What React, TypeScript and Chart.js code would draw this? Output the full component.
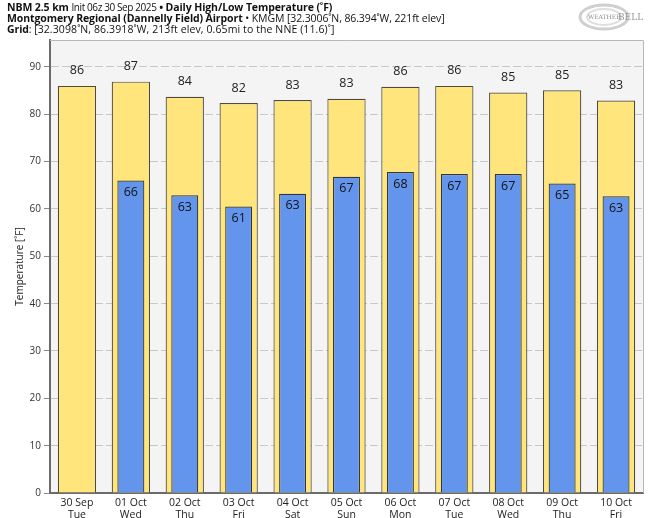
import React, { useEffect, useRef } from "react";
import { Chart, registerables } from "chart.js";

Chart.register(...registerables);

const categories: string[][] = [
  ["30 Sep", "Tue"],
  ["01 Oct", "Wed"],
  ["02 Oct", "Thu"],
  ["03 Oct", "Fri"],
  ["04 Oct", "Sat"],
  ["05 Oct", "Sun"],
  ["06 Oct", "Mon"],
  ["07 Oct", "Tue"],
  ["08 Oct", "Wed"],
  ["09 Oct", "Thu"],
  ["10 Oct", "Fri"],
];
const highTemps: number[] = [86.0, 86.9, 83.7, 82.4, 83.0, 83.3, 85.8, 86.0, 84.6, 85.1, 82.9];
const lowTemps: (number | null)[] = [null, 66.0, 62.9, 60.5, 63.2, 66.8, 67.8, 67.4, 67.4, 65.4, 62.7];
const yTicks: number[] = [0, 10, 20, 30, 40, 50, 60, 70, 80, 90];

const FONT = "'Open Sans', 'Noto Sans', sans-serif";

const plotDecor = {
  id: "plotDecor",
  beforeDraw(chart: any) {
    const { ctx, chartArea } = chart;
    ctx.save();
    ctx.fillStyle = "#f4f4f4";
    ctx.fillRect(chartArea.left, chartArea.top, chartArea.right - chartArea.left, chartArea.bottom - chartArea.top);
    ctx.restore();
  },
  afterDraw(chart: any) {
    const { ctx, chartArea } = chart;
    ctx.save();
    ctx.strokeStyle = "#b8b8b8";
    ctx.lineWidth = 1;
    ctx.beginPath();
    ctx.moveTo(chartArea.left, chartArea.top + 0.5);
    ctx.lineTo(chartArea.right + 0.5, chartArea.top + 0.5);
    ctx.lineTo(chartArea.right + 0.5, chartArea.bottom);
    ctx.stroke();
    // y-axis title
    ctx.translate(20, (chartArea.top + chartArea.bottom) / 2);
    ctx.rotate(-Math.PI / 2);
    ctx.fillStyle = "#222";
    ctx.font = `10px ${FONT}`;
    ctx.textAlign = "center";
    ctx.textBaseline = "middle";
    ctx.fillText("Temperature [˚F]", 0, 0);
    ctx.restore();
  },
  afterDatasetsDraw(chart: any) {
    const { ctx } = chart;
    ctx.save();
    ctx.font = `12.5px ${FONT}`;
    ctx.textAlign = "center";
    ctx.textBaseline = "middle";
    chart.data.datasets.forEach((ds: any, di: number) => {
      const meta = chart.getDatasetMeta(di);
      meta.data.forEach((el: any, i: number) => {
        const v = ds.data[i];
        if (v === null || v === undefined) return;
        const txt = String(Math.round(v));
        if (ds.label === "High") {
          ctx.fillStyle = "#222";
          ctx.fillText(txt, el.x, el.y - 15);
        } else {
          ctx.fillStyle = "#111";
          ctx.fillText(txt, el.x, el.y + 12);
        }
      });
    });
    ctx.restore();
  },
};

function Logo() {
  return (
    <svg width="70" height="34" style={{ position: "absolute", left: 574, top: 0 }}>
      <ellipse cx="30" cy="17" rx="24" ry="12" fill="none" stroke="#cfcfcf" strokeWidth="3" />
      <ellipse cx="30" cy="17" rx="17" ry="8" fill="none" stroke="#dedede" strokeWidth="2" />
      <text x="14" y="19" fontSize="6" fill="#888" fontFamily="DejaVu Serif">WEATHER</text>
      <text x="44" y="20" fontSize="9" fill="#999" fontFamily="DejaVu Serif">BELL</text>
    </svg>
  );
}

export default function App() {
  const ref = useRef<HTMLCanvasElement | null>(null);

  useEffect(() => {
    if (!ref.current) return;
    const chart = new Chart(ref.current, {
      type: "bar",
      data: {
        labels: categories,
        datasets: [
          {
            label: "High",
            data: highTemps,
            backgroundColor: "#ffe57c",
            borderColor: "#4d4a40",
            borderWidth: 1.2,
            barPercentage: 0.71,
            categoryPercentage: 1,
            order: 2,
          },
          {
            label: "Low",
            data: lowTemps,
            backgroundColor: "#6495ed",
            borderColor: "#2f3644",
            borderWidth: 1.2,
            barPercentage: 0.5,
            categoryPercentage: 1,
            order: 1,
          },
        ],
      },
      options: {
        responsive: false,
        animation: false,
        devicePixelRatio: 1,
        layout: { padding: { left: 0, right: 6, top: 40, bottom: 0 } },
        plugins: {
          legend: { display: false },
          tooltip: { enabled: false },
          title: { display: false },
        },
        scales: {
          x: {
            stacked: true,
            grid: { display: false, drawTicks: false },
            border: { display: true, color: "#6b6b6b", width: 2 },
            ticks: {
              color: "#222",
              font: { family: FONT, size: 10.5, lineHeight: 1.05 },
              padding: 5,
              maxRotation: 0,
              autoSkip: false,
            },
            afterFit(scale: any) {
              scale.height = 25;
            },
          },
          y: {
            min: 0,
            max: 95.7,
            stacked: false,
            grid: {
              color: "#c8c8c8",
              lineWidth: 1,
              tickLength: 6,
              tickColor: "#8a8a8a",
              drawTicks: true,
            },
            border: { display: true, color: "#6b6b6b", width: 2, dash: [8, 3] },
            ticks: {
              color: "#333",
              font: { family: FONT, size: 10 },
              padding: 3,
            },
            afterBuildTicks(scale: any) {
              scale.ticks = yTicks.map((v) => ({ value: v }));
            },
            afterFit(scale: any) {
              scale.width = 50;
            },
          },
        },
      },
      plugins: [plotDecor],
    });
    return () => chart.destroy();
  }, []);

  const lineStyle: React.CSSProperties = {
    position: "absolute",
    left: 7,
    whiteSpace: "nowrap",
    fontFamily: FONT,
    fontSize: 10.5,
    lineHeight: "11px",
    color: "#111",
    letterSpacing: -0.1,
  };
  const narrow: React.CSSProperties = { fontWeight: 400, fontSize: 10, letterSpacing: -0.4 };

  return (
    <div style={{ position: "absolute", left: 0, top: 0, width: 649, height: 518, background: "#fff" }}>
      <canvas ref={ref} width={649} height={518} style={{ position: "absolute", left: 0, top: 0, width: 649, height: 518 }} />
      <div style={{ ...lineStyle, top: 2 }}>
        <b>NBM 2.5 km</b> <span style={narrow}>Init 06z 30 Sep 2025</span> <b>• Daily High/Low Temperature (˚F)</b>
      </div>
      <div style={{ ...lineStyle, top: 13 }}>
        <b>Montgomery Regional (Dannelly Field) Airport</b> <span style={{ fontWeight: 400, letterSpacing: -0.1 }}>• KMGM [32.3006˚N, 86.394˚W, 221ft elev]</span>
      </div>
      <div style={{ ...lineStyle, top: 24 }}>
        <b>Grid</b>: <span style={{ fontWeight: 400, letterSpacing: 0.1 }}>[32.3098˚N, 86.3918˚W, 213ft elev, 0.65mi to the NNE (11.6)˚]</span>
      </div>
      <Logo />
    </div>
  );
}
